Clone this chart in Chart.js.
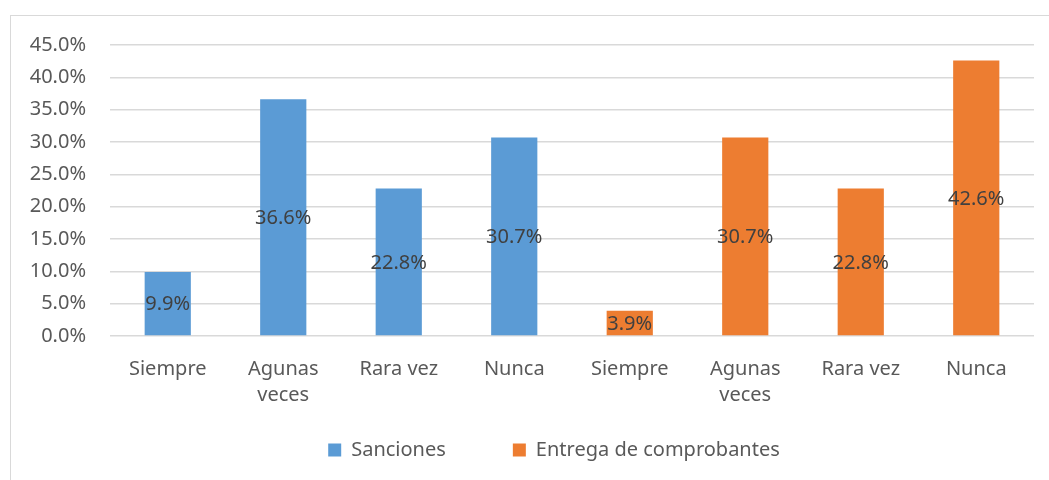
<!DOCTYPE html>
<html>
<head>
<meta charset="utf-8">
<script src="https://cdn.jsdelivr.net/npm/chart.js@4.4.1/dist/chart.umd.min.js"></script>
<style>
    html, body { margin: 0; padding: 0; background: #fff; }
    #wrap { position: relative; width: 1049px; height: 480px; overflow: hidden; }
    #frame { position: absolute; left: 10px; top: 15px; width: 1100px; height: 520px; border: 1px solid #d9d9d9; }
    #grafico { position: absolute; left: 0; top: 0; }
</style>
</head>
<body>
<div id="wrap">
    <div id="frame"></div>
    <canvas id="grafico" width="1049" height="480"></canvas>
</div>
<script>
// Datos
const categorias = ['Siempre', ['Agunas', 'veces'], 'Rara vez', 'Nunca', 'Siempre', ['Agunas', 'veces'], 'Rara vez', 'Nunca'];
const sanciones = [9.9, 36.6, 22.8, 30.7, null, null, null, null];
const entrega = [null, null, null, null, 3.9, 30.7, 22.8, 42.6];
const ticksY = [0, 5, 10, 15, 20, 25, 30, 35, 40, 45];

const fuente = "'Noto Sans', 'Open Sans', sans-serif";
const tam = 20;
const espacioLeyenda = 67;   // separación horizontal entre elementos
const recorte = espacioLeyenda - 20;

// Etiquetas de datos al centro de cada barra
const etiquetasCentro = {
    id: 'etiquetasCentro',
    afterDatasetsDraw(chart) {
        const ctx = chart.ctx;
        ctx.save();
        ctx.font = tam + 'px ' + fuente;
        ctx.fillStyle = '#404040';
        ctx.textAlign = 'center';
        ctx.textBaseline = 'middle';
        chart.data.datasets.forEach((ds, i) => {
            const meta = chart.getDatasetMeta(i);
            meta.data.forEach((bar, j) => {
                const v = ds.data[j];
                if (v === null) return;
                const mid = (bar.y + bar.base) / 2;
                ctx.fillText(v.toFixed(1) + '%', bar.x, mid + 1);
            });
        });
        ctx.restore();
    }
};

// La leyenda usa mucho espacio horizontal pero no vertical
const ajustarLeyenda = {
    id: 'ajustarLeyenda',
    afterInit(chart) {
        const lg = chart.legend;
        const fitOriginal = lg.fit.bind(lg);
        lg.fit = function () {
            fitOriginal();
            this.height -= recorte;
        };
    },
    afterLayout(chart) {
        const lg = chart.legend;
        lg.top -= recorte;
        lg.height += recorte;
        lg.left += 37;
        lg.right += 37;
    }
};

const ctx = document.getElementById('grafico').getContext('2d');
const grafico = new Chart(ctx, {
    type: 'bar',
    data: {
        labels: categorias,
        datasets: [{
            label: 'Sanciones',
            data: sanciones,
            backgroundColor: '#5B9BD5',
            borderWidth: 0
        }, {
            label: 'Entrega de comprobantes',
            data: entrega,
            backgroundColor: '#ED7D31',
            borderWidth: 0
        }]
    },
    options: {
        responsive: false,
        animation: false,
        categoryPercentage: 1,
        barPercentage: 0.4,
        layout: {
            padding: { top: 45, right: 15, left: 0, bottom: 10 }
        },
        plugins: {
            tooltip: { enabled: false },
            legend: {
                position: 'bottom',
                labels: {
                    font: { family: fuente, size: tam },
                    color: '#595959',
                    boxWidth: 13,
                    boxHeight: 13,
                    padding: espacioLeyenda
                }
            }
        },
        scales: {
            x: {
                stacked: true,
                grid: { display: false },
                border: { display: false },
                ticks: {
                    font: { family: fuente, size: tam, lineHeight: 1.3 },
                    color: '#595959',
                    padding: 12,
                    maxRotation: 0
                }
            },
            y: {
                stacked: true,
                min: 0,
                max: 45,
                afterFit(scale) { scale.width = 110; },
                afterBuildTicks(scale) { scale.ticks = ticksY.map(v => ({ value: v })); },
                grid: { color: '#d9d9d9', lineWidth: 1.5, drawTicks: false },
                border: { display: false },
                ticks: {
                    font: { family: fuente, size: tam },
                    color: '#595959',
                    padding: 24,
                    callback: v => v.toFixed(1) + '%'
                }
            }
        }
    },
    plugins: [etiquetasCentro, ajustarLeyenda]
});
</script>
</body>
</html>
